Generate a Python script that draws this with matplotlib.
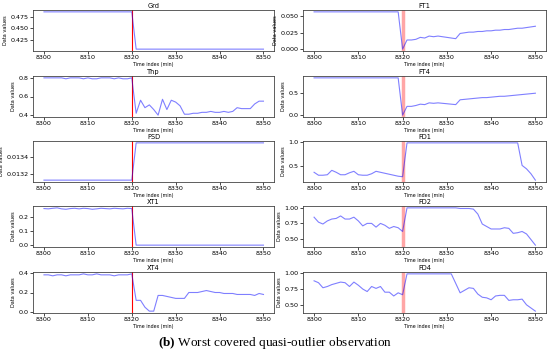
import numpy as np
import matplotlib
matplotlib.use("Agg")
import matplotlib.pyplot as plt

plt.rcParams["mathtext.fontset"] = "custom"
plt.rcParams["mathtext.bf"] = "Liberation Serif:bold"

# Time index (min)
t = np.arange(8300, 8351)
t_event = 8320

# Left column
grd = [0.485] * 21 + [0.405] * 30
thp = [0.80, 0.80, 0.80, 0.80, 0.80, 0.79, 0.80, 0.80, 0.80, 0.79, 0.80,
       0.79, 0.79, 0.80, 0.80, 0.80, 0.79, 0.80, 0.79, 0.79, 0.80,
       0.42, 0.56, 0.48, 0.51, 0.46, 0.40, 0.57, 0.46, 0.56, 0.54,
       0.50, 0.41, 0.41, 0.42, 0.42, 0.43, 0.43, 0.44, 0.43, 0.43,
       0.44, 0.43, 0.44, 0.48, 0.47, 0.47, 0.47, 0.52, 0.55, 0.55]
psd = [0.013130] * 21 + [0.013558] * 30
xt1 = [0.260, 0.258, 0.262, 0.265, 0.258, 0.255, 0.260, 0.262, 0.258, 0.262, 0.260,
       0.255, 0.258, 0.262, 0.260, 0.258, 0.262, 0.260, 0.258, 0.262, 0.260] + [0.0] * 30
xt4 = [0.38, 0.38, 0.37, 0.38, 0.38, 0.37, 0.38, 0.38, 0.38, 0.39, 0.38,
       0.38, 0.39, 0.38, 0.38, 0.38, 0.37, 0.38, 0.38, 0.38, 0.39,
       0.12, 0.12, 0.05, 0.01, 0.01, 0.17, 0.17, 0.16, 0.15, 0.14,
       0.14, 0.14, 0.20, 0.20, 0.20, 0.21, 0.22, 0.21, 0.20, 0.20,
       0.19, 0.19, 0.19, 0.18, 0.18, 0.18, 0.18, 0.17, 0.19, 0.18]

# Right column
ft1 = [0.057] * 20 + [0.0, 0.014, 0.014, 0.015, 0.018, 0.017, 0.020, 0.019, 0.020, 0.019, 0.018,
                      0.017, 0.016, 0.024, 0.025, 0.026, 0.026, 0.027, 0.027, 0.028, 0.028,
                      0.029, 0.029, 0.030, 0.030, 0.031, 0.032, 0.032, 0.033, 0.034, 0.035]
ft4 = [0.85] * 20 + [0.0, 0.20, 0.20, 0.22, 0.25, 0.24, 0.28, 0.27, 0.28, 0.27, 0.26,
                     0.25, 0.24, 0.35, 0.36, 0.37, 0.38, 0.39, 0.40, 0.40, 0.41,
                     0.42, 0.43, 0.43, 0.44, 0.45, 0.46, 0.47, 0.48, 0.49, 0.50]
fd1 = [0.38, 0.32, 0.32, 0.33, 0.42, 0.38, 0.33, 0.33, 0.37, 0.40, 0.33,
       0.32, 0.32, 0.35, 0.40, 0.38, 0.36, 0.34, 0.32, 0.30, 0.29] + [0.98] * 26 + [0.52, 0.45, 0.35, 0.22]
fd2 = [0.85, 0.77, 0.74, 0.79, 0.82, 0.83, 0.87, 0.82, 0.82, 0.85, 0.79,
       0.71, 0.75, 0.75, 0.69, 0.75, 0.72, 0.67, 0.70, 0.68, 0.62,
       1.0, 1.0, 1.0, 1.0, 1.0, 1.0, 1.0, 1.0, 1.0, 1.0,
       1.0, 1.0, 0.99, 0.99, 0.99, 0.98, 0.90, 0.74, 0.70, 0.66,
       0.66, 0.66, 0.68, 0.67, 0.59, 0.60, 0.62, 0.58, 0.49, 0.40]
fd4 = [0.88, 0.85, 0.77, 0.79, 0.82, 0.84, 0.86, 0.85, 0.79, 0.86, 0.81,
       0.75, 0.71, 0.79, 0.76, 0.79, 0.70, 0.70, 0.64, 0.69, 0.66,
       0.99, 0.99, 0.99, 0.99, 0.99, 0.99, 0.99, 0.99, 0.99, 0.99,
       0.99, 0.84, 0.69, 0.73, 0.77, 0.76, 0.67, 0.62, 0.61, 0.58,
       0.64, 0.65, 0.65, 0.57, 0.58, 0.58, 0.59, 0.50, 0.45, 0.40]

left = [("Grd", grd, [0.425, 0.450, 0.475], "%.3f"),
        ("Thp", thp, [0.4, 0.6, 0.8], "%.1f"),
        ("PSD", psd, [0.0132, 0.0134], "%.4f"),
        ("XT1", xt1, [0.0, 0.1, 0.2], "%.1f"),
        ("XT4", xt4, [0.0, 0.2, 0.4], "%.1f")]
right = [("FT1", ft1, [0.000, 0.025, 0.050], "%.3f"),
         ("FT4", ft4, [0.0, 0.5], "%.1f"),
         ("FD1", fd1, [0.5, 1.0], "%.1f"),
         ("FD2", fd2, [0.50, 0.75, 1.00], "%.2f"),
         ("FD4", fd4, [0.50, 0.75, 1.00], "%.2f")]

W, H = 550, 354
fig = plt.figure(figsize=(W / 100, H / 100), dpi=100)

tops = [10, 76, 141, 206, 272]
ax_h = 41

def draw(x0, x1, items, wide_red):
    for (name, vals, ticks, fmt), top in zip(items, tops):
        ax = fig.add_axes([x0 / W, 1 - (top + ax_h) / H, (x1 - x0) / W, ax_h / H])
        if wide_red:
            ax.axvline(t_event, color="red", alpha=0.35, lw=2.5)
        else:
            ax.axvline(t_event, color="red", lw=0.8)
        ax.plot(t, vals, color="blue", alpha=0.5, lw=0.8)
        ax.set_xlim(8297.5, 8352.4)
        ax.set_xticks([8300, 8310, 8320, 8330, 8340, 8350])
        ax.set_yticks(ticks)
        ax.yaxis.set_major_formatter(matplotlib.ticker.FormatStrFormatter(fmt))
        ax.tick_params(labelsize=4.6, length=2, width=0.5, pad=1.2)
        ax.set_title(name, fontsize=4.8, pad=1.5)
        ax.set_xlabel("Time index (min)", fontsize=3.4, labelpad=1)
        ax.set_ylabel("Data values", fontsize=3.6, labelpad=1.5)
        for s in ax.spines.values():
            s.set_linewidth(0.6)
            s.set_color("#444444")

draw(33, 274, left, False)
draw(303, 546, right, True)

fig.text(0.5, 1 - 343 / H, r"$\mathbf{(b)}$ Worst covered quasi-outlier observation",
         ha="center", va="center", fontsize=9.5, family="Liberation Serif")

plt.savefig("out.png", dpi=100)
